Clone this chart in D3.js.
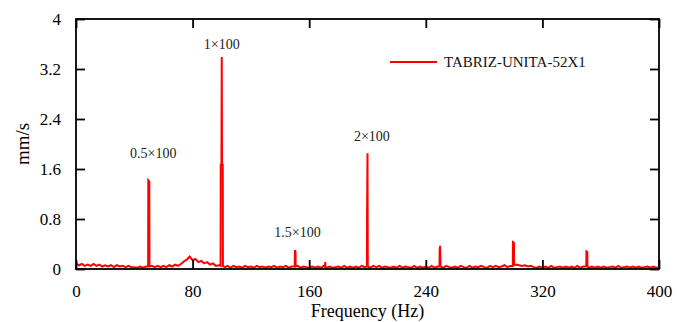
<!DOCTYPE html>
<html><head><meta charset="utf-8">
<script src="https://cdn.jsdelivr.net/npm/d3@7"></script>
<style>
html,body{margin:0;padding:0;background:#fff;}
text{font-family:"Liberation Serif","Times New Roman",serif;}
</style></head>
<body><svg id="chart" width="688" height="322"></svg>
<script>
// ---- data ----
const seriesName = "TABRIZ-UNITA-52X1";
const xTicks = [0, 80, 160, 240, 320, 400];
const yTicks = [0, 0.8, 1.6, 2.4, 3.2, 4];
const yTickLabels = ["0", "0.8", "1.6", "2.4", "3.2", "4"];
// background spectrum, every 2 Hz from 0 to 400 Hz (mm/s)
const baseStep = 2;
const baseValues = [
0.09,0.06,0.08,0.05,0.07,0.05,0.08,0.05,0.07,0.04,
0.06,0.04,0.06,0.03,0.06,0.04,0.05,0.03,0.05,0.03,
0.03,0.02,0.04,0.02,0.04,0.03,0.05,0.03,0.05,0.03,
0.05,0.03,0.06,0.04,0.07,0.05,0.08,0.12,0.15,0.20,
0.14,0.16,0.11,0.13,0.09,0.11,0.07,0.09,0.05,0.06,
0.05,0.03,0.05,0.02,0.05,0.03,0.04,0.02,0.05,0.03,
0.04,0.02,0.05,0.03,0.04,0.02,0.04,0.03,0.05,0.02,
0.04,0.03,0.05,0.02,0.04,0.03,0.05,0.02,0.04,0.03,
0.02,0.04,0.02,0.04,0.02,0.05,0.02,0.04,0.02,0.03,
0.04,0.02,0.05,0.02,0.04,0.02,0.04,0.02,0.05,0.03,
0.04,0.02,0.05,0.03,0.05,0.02,0.04,0.03,0.02,0.04,
0.02,0.05,0.02,0.04,0.03,0.02,0.05,0.02,0.04,0.02,
0.04,0.02,0.05,0.02,0.04,0.03,0.02,0.05,0.03,0.02,
0.04,0.02,0.05,0.03,0.02,0.05,0.02,0.04,0.03,0.05,
0.03,0.02,0.05,0.03,0.05,0.03,0.04,0.06,0.03,0.05,
0.06,0.07,0.06,0.05,0.06,0.04,0.05,0.03,0.02,0.04,
0.02,0.04,0.02,0.05,0.02,0.03,0.04,0.02,0.04,0.02,
0.04,0.02,0.05,0.02,0.04,0.03,0.02,0.04,0.02,0.04,
0.02,0.04,0.02,0.03,0.04,0.02,0.05,0.02,0.03,0.04,
0.02,0.04,0.02,0.04,0.02,0.03,0.04,0.02,0.04,0.02,
0.03];
// narrow spectral peaks (frequency Hz, amplitude mm/s)
const peakFreqs = [
 49.5, 49.6, 50.3, 50.4,
 99.2, 99.3, 99.8, 100.0, 100.2, 100.7, 100.8,
 150.1, 150.2, 150.6, 150.7,
 170.9, 171.0, 171.1,
 199.6, 199.7, 200.0, 200.2,
 249.4, 249.5, 249.8, 250.1,
 299.7, 299.8, 300.5, 300.6,
 350.1, 350.2, 350.8, 350.9];
const peakValues = [
 0.04, 1.42, 1.40, 0.04,
 0.05, 1.67, 1.67, 3.39, 1.67, 1.67, 0.05,
 0.04, 0.30, 0.28, 0.04,
 0.03, 0.11, 0.03,
 0.04, 0.90, 1.85, 0.04,
 0.04, 0.30, 0.37, 0.04,
 0.05, 0.43, 0.42, 0.06,
 0.04, 0.28, 0.27, 0.04];
const annotations = ["0.5×100", "1×100", "1.5×100", "2×100"];
const annotFreqs = [53, 100, 152, 203];
const annotValues = [1.78, 3.52, 0.52, 2.05];

// ---- layout ----
const svg = d3.select("#chart");
const m = {left: 76, right: 659, top: 19, bottom: 269};
const x = d3.scaleLinear().domain([0, 400]).range([m.left, m.right]);
const y = d3.scaleLinear().domain([0, 4]).range([m.bottom, m.top]);

// merge series
const peakRanges = [];
let start = 0;
[4, 7, 4, 3, 4, 4, 4, 4].forEach(n => {
  peakRanges.push([peakFreqs[start], peakFreqs[start + n - 1]]);
  start += n;
});
const pts = [];
baseValues.forEach((v, i) => {
  const f = i * baseStep;
  if (!peakRanges.some(r => f >= r[0] - 0.5 && f <= r[1] + 0.5)) pts.push([f, v]);
});
peakFreqs.forEach((f, i) => pts.push([f, peakValues[i]]));
pts.sort((a, b) => a[0] - b[0]);

svg.append("clipPath").attr("id", "clip").append("rect")
  .attr("x", m.left).attr("y", m.top).attr("width", m.right - m.left).attr("height", m.bottom - m.top);

svg.append("path").datum(pts)
  .attr("clip-path", "url(#clip)")
  .attr("fill", "none").attr("stroke", "#ff0000").attr("stroke-width", 2)
  .attr("stroke-linejoin", "miter")
  .attr("d", d3.line().x(d => x(d[0])).y(d => y(d[1])));

// axes
const tl = 9;
const fmtY = (d, i) => yTickLabels[i];
const bottomAx = svg.append("g").attr("transform", `translate(0,${m.bottom})`)
  .call(d3.axisBottom(x).tickValues(xTicks).tickSizeInner(-tl).tickSizeOuter(0).tickPadding(16).tickFormat(d3.format("d")));
const topAx = svg.append("g").attr("transform", `translate(0,${m.top})`)
  .call(d3.axisTop(x).tickValues(xTicks).tickSizeInner(-tl).tickSizeOuter(0).tickFormat(""));
const leftAx = svg.append("g").attr("transform", `translate(${m.left},0)`)
  .call(d3.axisLeft(y).tickValues(yTicks).tickSizeInner(-tl).tickSizeOuter(0).tickPadding(15).tickFormat(fmtY));
const rightAx = svg.append("g").attr("transform", `translate(${m.right},0)`)
  .call(d3.axisRight(y).tickValues(yTicks).tickSizeInner(-tl).tickSizeOuter(0).tickFormat(""));
[bottomAx, topAx, leftAx, rightAx].forEach(g => {
  g.select(".domain").remove();
  g.selectAll(".tick line").attr("stroke", "#000").attr("stroke-width", 1.8);
  g.selectAll("text").attr("fill", "#000").style("font-family", '"Liberation Serif", serif').style("font-size", "17px");
});
bottomAx.selectAll("text").attr("dy", "0.71em");
svg.append("rect").attr("x", m.left).attr("y", m.top)
  .attr("width", m.right - m.left).attr("height", m.bottom - m.top)
  .attr("fill", "none").attr("stroke", "#000").attr("stroke-width", 1.8);

// axis titles
svg.append("text").attr("x", (m.left + m.right) / 2).attr("y", 317)
  .attr("text-anchor", "middle").style("font-size", "18px").text("Frequency (Hz)");
svg.append("text").attr("transform", `translate(29,${(m.top + m.bottom) / 2}) rotate(-90)`)
  .attr("text-anchor", "middle").style("font-size", "19px").text("mm/s");

// annotations
annotations.forEach((t, i) => {
  svg.append("text").attr("x", x(annotFreqs[i])).attr("y", y(annotValues[i]))
    .attr("text-anchor", "middle").style("font-size", "14px").attr("fill", "#222").text(t);
});

// legend
svg.append("line").attr("x1", 390).attr("x2", 437).attr("y1", 62).attr("y2", 62)
  .attr("stroke", "#ff0000").attr("stroke-width", 2);
svg.append("text").attr("x", 444).attr("y", 67).style("font-size", "15px").attr("fill", "#111").text(seriesName);
</script></body></html>
